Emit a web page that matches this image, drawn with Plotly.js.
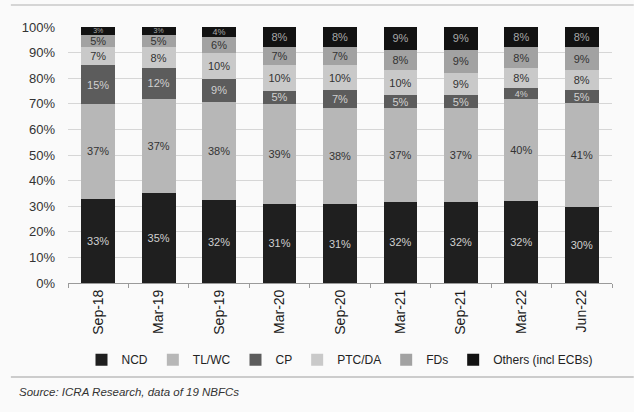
<!DOCTYPE html>
<html>
<head>
<meta charset="utf-8">
<script src="https://cdn.plot.ly/plotly-3.0.1.min.js"></script>
<style>html,body{margin:0;padding:0;background:#f4f4f4;}#chart{width:634px;height:412px;}</style>
</head>
<body>
<div id="chart"></div>
<script>
const categories = ["Sep-18","Mar-19","Sep-19","Mar-20","Sep-20","Mar-21","Sep-21","Mar-22","Jun-22"];
const ncd    = [33, 35, 32, 31, 31, 32, 32, 32, 30];
const tlwc   = [37, 37, 38, 39, 38, 37, 37, 40, 41];
const cp     = [15, 12, 9, 5, 7, 5, 5, 4, 5];
const ptcda  = [7, 8, 10, 10, 10, 10, 9, 8, 8];
const fds    = [5, 5, 6, 7, 7, 8, 9, 8, 9];
const others = [3, 3, 4, 8, 8, 9, 9, 8, 8];
const seriesNames = ["NCD","TL/WC","CP","PTC/DA","FDs","Others (incl ECBs)"];
const yTicks = [0,10,20,30,40,50,60,70,80,90,100];

const FONT = "'Liberation Sans', Arial, sans-serif";
const series = [ncd, tlwc, cp, ptcda, fds, others];
const colors = ["#1f1f1f","#b7b7b7","#5c5c5c","#c9c9c9","#a2a2a2","#121212"];
const textColors = ["#cfcfcf","#333333","#d0d0d0","#333333","#333333","#a8a8a8"];

const traces = series.map((vals, i) => ({
  type: "bar",
  name: seriesNames[i],
  x: categories,
  y: vals,
  text: vals.map(v => v + "%"),
  texttemplate: "%{text}",
  textposition: "inside",
  insidetextanchor: "middle",
  constraintext: "none",
  textangle: 0,
  insidetextfont: {family: FONT, size: vals.map(v => v < 4 ? 7 : (v < 5 ? 9 : 11)), color: textColors[i]},
  marker: {color: colors[i], line: {width: 0}},
  hoverinfo: "skip"
}));

const layout = {
  width: 634, height: 412,
  margin: {l: 68, r: 22, t: 27, b: 129},
  paper_bgcolor: "#fafafa",
  plot_bgcolor: "#fafafa",
  barmode: "stack",
  barnorm: "percent",
  bargap: 0.44,
  font: {family: FONT, color: "#333"},
  showlegend: true,
  legend: {
    orientation: "h", x: 0.5, xanchor: "center", y: -0.30, yanchor: "middle",
    font: {family: FONT, size: 12, color: "#222"},
    itemwidth: 30, traceorder: "normal", bgcolor: "rgba(0,0,0,0)"
  },
  xaxis: {
    type: "category",
    tickangle: -90,
    tickfont: {family: FONT, size: 14, color: "#1a1a1a"},
    showline: true, linecolor: "#9a9a9a", linewidth: 1,
    ticks: "outside", tickson: "boundaries", ticklen: 4, tickcolor: "#9a9a9a",
    showgrid: false, zeroline: false
  },
  yaxis: {
    range: [0, 100],
    tickvals: yTicks,
    ticktext: yTicks.map(v => v + "%"),
    tickfont: {family: FONT, size: 13, color: "#333"},
    ticklabelstandoff: 12,
    showgrid: true, gridcolor: "#d6d6d6", gridwidth: 1,
    zeroline: false, showline: false, ticks: "", ticklen: 0
  },
  shapes: [
    {type: "line", xref: "paper", yref: "paper", x0: -0.105, x1: 1.04, y0: 1.086, y1: 1.086,
     line: {color: "#c8c8c8", width: 1.5}},
    {type: "line", xref: "paper", yref: "paper", x0: -0.105, x1: 1.04, y0: -0.367, y1: -0.367,
     line: {color: "#bdbdbd", width: 1.5}}
  ],
  annotations: [
    {text: "<i>Source: ICRA Research, data of 19 NBFCs</i>", xref: "paper", yref: "paper",
     x: -0.094, y: -0.426, xanchor: "left", yanchor: "middle", showarrow: false,
     font: {family: FONT, size: 11.5, color: "#333"}}
  ]
};

Plotly.newPlot("chart", traces, layout, {displayModeBar: false, staticPlot: true});
</script>
</body>
</html>
